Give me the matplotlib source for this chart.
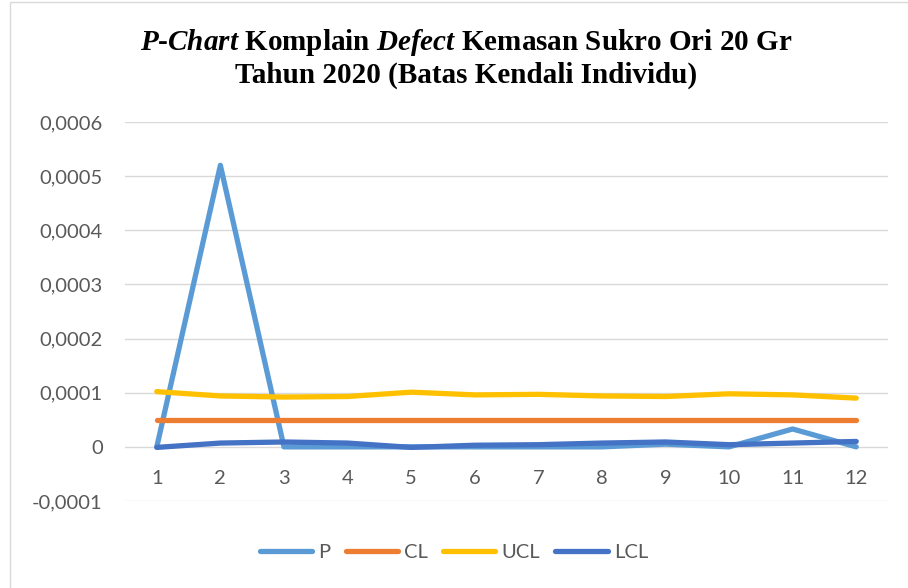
import numpy as np
import matplotlib
matplotlib.use('Agg')
import matplotlib.pyplot as plt
from matplotlib.ticker import FuncFormatter
from matplotlib.patches import Rectangle

# data
bulan = np.arange(1, 13)
p_val = [0, 0.00052, 0, 0, 0, 0, 0, 0, 0.000005, 0, 0.000033, 0]
cl_val = [0.00005] * 12
ucl_val = [0.000102, 0.000094, 0.000092, 0.000093, 0.000101, 0.000096,
           0.000097, 0.000094, 0.000093, 0.000098, 0.000096, 0.00009]
lcl_val = [-0.000001, 0.000007, 0.000009, 0.000007, -0.000001, 0.000003,
           0.000004, 0.000007, 0.000009, 0.000004, 0.000007, 0.00001]

plt.rcParams['mathtext.fontset'] = 'custom'
plt.rcParams['mathtext.it'] = 'Liberation Serif:italic:bold'
plt.rcParams['mathtext.rm'] = 'Liberation Serif:bold'

abu = '#595959'
fig = plt.figure(figsize=(9.08, 5.88), dpi=100, facecolor='white')
ax = fig.add_axes([125 / 908, 87 / 588, 763 / 908, 379 / 588])

ax.plot(bulan, p_val, color='#5B9BD5', lw=3.8, label='P', solid_capstyle='round')
ax.plot(bulan, cl_val, color='#ED7D31', lw=3.8, label='CL', solid_capstyle='round')
ax.plot(bulan, ucl_val, color='#FFC000', lw=3.8, label='UCL', solid_capstyle='round')
ax.plot(bulan, lcl_val, color='#4472C4', lw=3.8, label='LCL', solid_capstyle='round')

ax.set_xlim(0.5, 12.5)
ax.set_ylim(-0.0001, 0.0006)
ax.set_yticks(np.arange(-0.0001, 0.00061, 0.0001))
ax.set_xticks(bulan)


def fmt(v, pos):
    if abs(v) < 1e-12:
        return '0'
    return ('%.4f' % v).replace('.', ',')


ax.yaxis.set_major_formatter(FuncFormatter(fmt))
ax.grid(axis='y', color='#D9D9D9', lw=1)
ax.set_axisbelow(True)
for s in ax.spines.values():
    s.set_visible(False)
ax.spines['bottom'].set_position(('data', 0))
ax.tick_params(axis='both', length=0, labelsize=14.5, labelcolor=abu)
ax.tick_params(axis='y', pad=16)
ax.tick_params(axis='x', pad=17)
for t in ax.get_xticklabels() + ax.get_yticklabels():
    t.set_family('Lato')

judul = (r'$P$-$Chart$ Komplain $Defect$ Kemasan Sukro Ori 20 Gr' + '\n'
         'Tahun 2020 (Batas Kendali Individu)')
fig.text(466 / 908, 1 - 58 / 588, judul, ha='center', va='center',
         family='Liberation Serif', weight='bold', fontsize=21,
         linespacing=1.2)

leg = ax.legend(loc='center', ncol=4, frameon=False, handlelength=2.6,
                columnspacing=0.75, handletextpad=0.3,
                prop={'family': 'Lato', 'size': 14.5})
leg.set_bbox_to_anchor((454 / 908, 36 / 588), transform=fig.transFigure)
for t in leg.get_texts():
    t.set_color(abu)
for h in leg.get_lines():
    h.set_solid_capstyle('round')

fig.patches.append(Rectangle((10 / 908, -0.1), 1.2, 1.1 - 1.5 / 588,
                             transform=fig.transFigure, fill=False,
                             edgecolor='#D9D9D9', lw=1))

plt.savefig('out.png', dpi=100)
